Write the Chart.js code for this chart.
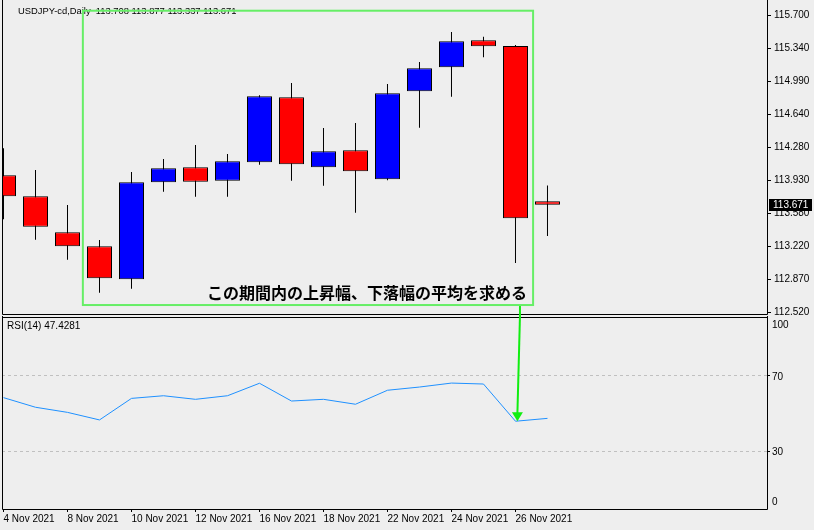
<!DOCTYPE html>
<html>
<head>
<meta charset="utf-8">
<title>USDJPY-cd Daily</title>
<script src="https://cdn.jsdelivr.net/npm/chart.js"></script>
<style>
    body {
        margin: 0;
        background-color: #eeeeee;
    }
    #wrap {
        position: relative;
        width: 814px;
        height: 530px;
        background-color: #eeeeee;
    }
    canvas {
        position: absolute;
        left: 0;
    }
    #priceChart { top: 0; }
    #rsiChart { top: 316px; }
</style>
</head>
<body>

<div id="wrap">
    <canvas id="priceChart" width="814" height="316"></canvas>
    <canvas id="rsiChart" width="814" height="214"></canvas>
</div>

<script>
// Daily bars
const dates = ['4 Nov 2021', '5 Nov 2021', '8 Nov 2021', '9 Nov 2021', '10 Nov 2021', '11 Nov 2021',
    '12 Nov 2021', '15 Nov 2021', '16 Nov 2021', '17 Nov 2021', '18 Nov 2021', '19 Nov 2021',
    '22 Nov 2021', '23 Nov 2021', '24 Nov 2021', '25 Nov 2021', '26 Nov 2021', '29 Nov 2021'];
const openPrices  = [113.987, 113.762, 113.377, 113.227, 112.873, 113.912, 114.072, 113.929, 114.126,
    114.822, 114.072, 114.254, 113.944, 114.886, 115.143, 115.432, 115.371, 113.708];
const highPrices  = [114.276, 114.044, 113.669, 113.294, 114.022, 114.161, 114.311, 114.215, 114.845,
    114.975, 114.493, 114.547, 114.964, 115.200, 115.521, 115.471, 115.382, 113.877];
const lowPrices   = [113.516, 113.297, 113.083, 112.730, 112.773, 113.811, 113.758, 113.758, 114.100,
    113.929, 113.876, 113.586, 113.935, 114.496, 114.828, 115.250, 113.048, 113.337];
const closePrices = [113.762, 113.436, 113.227, 112.884, 113.912, 114.062, 113.918, 114.137, 114.833,
    114.105, 114.244, 114.030, 114.865, 115.132, 115.422, 115.368, 113.526, 113.671];
const rsiValues   = [58.4, 53.3, 50.6, 46.6, 58.0, 59.4, 57.5, 59.4, 66.0, 56.6, 57.5, 54.9,
    62.3, 64.0, 66.1, 65.6, 45.9, 47.4281];

// Axis labels
const dateTickLabels = ['4 Nov 2021', '8 Nov 2021', '10 Nov 2021', '12 Nov 2021', '16 Nov 2021',
    '18 Nov 2021', '22 Nov 2021', '24 Nov 2021', '26 Nov 2021'];
const priceTickLabels = ['112.520', '112.870', '113.220', '113.580', '113.930', '114.280',
    '114.640', '114.990', '115.340', '115.700'];
const rsiTickLabels = ['0', '30', '70', '100'];
const rsiLevels = [30, 70];

const noteText = 'この期間内の上昇幅、下落幅の平均を求める';

// view ranges (bar index / price / rsi units)
const X_MIN = -0.047, X_MAX = 23.86;
const PRICE_MIN = 112.502, PRICE_MAX = 115.853;
const RSI_MIN = -0.53, RSI_MAX = 101.06;
const AXIS_W = 47;

// note box and arrow, in data units
const noteBox = { x0: 2.48, x1: 16.55, top: 115.749, bottom: 112.598 };
const arrowTopX = 16.14, arrowTipX = 16.06, arrowBar = 16;

Chart.defaults.font.family = "'Liberation Sans', Arial, sans-serif";
Chart.defaults.font.size = 10;
Chart.defaults.color = '#000';

const last = dates.length - 1;
const bodyData = dates.map((d, i) => ({ x: i, y: [Math.min(openPrices[i], closePrices[i]), Math.max(openPrices[i], closePrices[i])] }));
const bodyColors = dates.map((d, i) => closePrices[i] >= openPrices[i] ? '#0000ff' : '#ff0000');
const wickData = dates.map((d, i) => ({ x: i, y: [lowPrices[i], highPrices[i]] }));

const lo = parseFloat(priceTickLabels[0]);
const hi = parseFloat(priceTickLabels[priceTickLabels.length - 1]);
const priceTickValues = priceTickLabels.map((l, k) => lo + k * (hi - lo) / (priceTickLabels.length - 1));

function noPad(s) {
    s.paddingLeft = 0; s.paddingRight = 0; s.paddingTop = 0; s.paddingBottom = 0;
}

// black frame round the plot area
const framePlugin = {
    id: 'frame',
    afterDraw(chart) {
        const a = chart.chartArea, ctx = chart.ctx;
        const l = Math.round(a.left) + 0.5, r = Math.round(a.right) + 0.5;
        const t = Math.round(a.top) + 0.5, b = Math.round(a.bottom) + 0.5;
        ctx.save();
        ctx.strokeStyle = '#000';
        ctx.lineWidth = 1;
        ctx.beginPath();
        if (chart.canvas.id === 'rsiChart') {
            ctx.moveTo(l, t); ctx.lineTo(r, t);
        }
        ctx.moveTo(l, 0); ctx.lineTo(l, b); ctx.lineTo(r, b); ctx.lineTo(r, 0);
        ctx.stroke();
        ctx.restore();
    }
};

const priceOverlay = {
    id: 'priceOverlay',
    afterDraw(chart) {
        const { ctx, chartArea: a } = chart;
        const x = chart.scales.x, y = chart.scales.y;
        ctx.save();

        // header
        ctx.fillStyle = '#000';
        ctx.font = "9.4px 'Liberation Sans', Arial, sans-serif";
        ctx.textBaseline = 'middle';
        ctx.textAlign = 'left';
        const ohlc = [openPrices[last], highPrices[last], lowPrices[last], closePrices[last]].map(v => v.toFixed(3)).join(' ');
        ctx.fillText('USDJPY-cd,Daily  ' + ohlc, 18, 11);

        // green box + note
        const L = x.getPixelForValue(noteBox.x0), R = x.getPixelForValue(noteBox.x1);
        const T = y.getPixelForValue(noteBox.top), B = y.getPixelForValue(noteBox.bottom);
        ctx.strokeStyle = '#66ee66';
        ctx.lineWidth = 2;
        ctx.strokeRect(L, T, R - L, B - T);

        ctx.font = "bold 16px 'Noto Sans CJK JP', sans-serif";
        ctx.textAlign = 'right';
        ctx.fillStyle = '#000';
        ctx.fillText(noteText, R - 6, B - 12);

        // arrow, upper part
        const ax = x.getPixelForValue(arrowTopX);
        ctx.strokeStyle = '#11ee11';
        ctx.lineWidth = 2;
        ctx.beginPath();
        ctx.moveTo(ax, B + 1);
        ctx.lineTo(ax, chart.height);
        ctx.stroke();

        // current price box
        const cy = Math.round(y.getPixelForValue(closePrices[last]));
        ctx.fillStyle = '#000';
        ctx.fillRect(Math.round(a.right) + 2, cy - 6, 43, 12);
        ctx.fillStyle = '#fff';
        ctx.font = "10px 'Liberation Sans', Arial, sans-serif";
        ctx.textAlign = 'left';
        ctx.fillText(closePrices[last].toFixed(3), Math.round(a.right) + 6, cy);
        ctx.restore();
    }
};

const rsiOverlay = {
    id: 'rsiOverlay',
    afterDraw(chart) {
        const { ctx, chartArea: a } = chart;
        const x = chart.scales.x, y = chart.scales.y;
        ctx.save();
        ctx.fillStyle = '#000';
        ctx.font = "10px 'Liberation Sans', Arial, sans-serif";
        ctx.textAlign = 'left';
        ctx.textBaseline = 'middle';
        ctx.fillText('RSI(14) ' + rsiValues[last], 7, 10);

        // level labels: top one hangs below, bottom one sits above
        ctx.textBaseline = 'alphabetic';
        rsiTickLabels.forEach((l, k) => {
            const p = y.getPixelForValue(parseFloat(l));
            let dy = 4;
            if (k === 0) dy = -3;
            if (k === rsiTickLabels.length - 1) dy = 9;
            ctx.fillText(l, Math.round(a.right) + 5, p + dy);
        });

        // arrow, lower part with head
        const ax = x.getPixelForValue(arrowTopX);
        const tx = x.getPixelForValue(arrowTipX);
        const ty = y.getPixelForValue(rsiValues[arrowBar]);
        ctx.strokeStyle = '#11ee11';
        ctx.fillStyle = '#11ee11';
        ctx.lineWidth = 2;
        ctx.beginPath();
        ctx.moveTo(ax, 0);
        ctx.lineTo(tx, ty - 8);
        ctx.stroke();
        ctx.beginPath();
        ctx.moveTo(tx, ty);
        ctx.lineTo(tx - 5.5, ty - 9);
        ctx.lineTo(tx + 5.5, ty - 9);
        ctx.closePath();
        ctx.fill();
        ctx.restore();
    }
};

const priceChart = new Chart(document.getElementById('priceChart'), {
    type: 'bar',
    data: {
        datasets: [{
            data: bodyData,
            backgroundColor: bodyColors,
            borderColor: '#000',
            borderWidth: 1,
            borderSkipped: false,
            barThickness: 25,
            grouped: false,
            inflateAmount: 0
        }, {
            data: wickData,
            backgroundColor: '#000',
            borderWidth: 0,
            barThickness: 1,
            grouped: false,
            inflateAmount: 0
        }]
    },
    options: {
        responsive: false,
        animation: false,
        events: [],
        devicePixelRatio: 1,
        layout: { padding: { left: 2, top: 1, right: 0, bottom: 2 } },
        plugins: { legend: { display: false }, tooltip: { enabled: false } },
        scales: {
            x: { type: 'linear', display: false, min: X_MIN, max: X_MAX, offset: false },
            y: {
                position: 'right',
                min: PRICE_MIN,
                max: PRICE_MAX,
                afterBuildTicks: s => { s.ticks = priceTickValues.map(v => ({ value: v })); },
                afterFit: s => { s.width = AXIS_W; noPad(s); },
                ticks: { callback: (v, i) => priceTickLabels[i], padding: 3, autoSkip: false },
                grid: { drawOnChartArea: false, drawTicks: true, tickLength: 4, tickColor: '#000', color: '#000' },
                border: { display: false }
            }
        }
    },
    plugins: [framePlugin, priceOverlay]
});

const isLevel = c => c.tick && rsiLevels.includes(c.tick.value);

const rsiChart = new Chart(document.getElementById('rsiChart'), {
    type: 'line',
    data: {
        datasets: [{
            data: rsiValues.map((v, i) => ({ x: i, y: v })),
            borderColor: '#1e90ff',
            borderWidth: 1,
            pointRadius: 0,
            tension: 0,
            fill: false
        }]
    },
    options: {
        responsive: false,
        animation: false,
        events: [],
        devicePixelRatio: 1,
        layout: { padding: { left: 2, top: 1, right: 0, bottom: 0 } },
        plugins: { legend: { display: false }, tooltip: { enabled: false } },
        scales: {
            x: {
                type: 'linear',
                min: X_MIN,
                max: X_MAX,
                offset: false,
                afterBuildTicks: s => { s.ticks = dateTickLabels.map(l => ({ value: dates.indexOf(l) })); },
                afterFit: s => { s.height = 21; noPad(s); },
                ticks: { callback: (v, i) => dateTickLabels[i], align: 'start', maxRotation: 0, autoSkip: false, padding: 1 },
                grid: { drawOnChartArea: false, drawTicks: true, tickLength: 3, tickColor: '#000', color: '#000' },
                border: { display: false }
            },
            y: {
                position: 'right',
                min: RSI_MIN,
                max: RSI_MAX,
                afterBuildTicks: s => { s.ticks = rsiTickLabels.map(l => ({ value: parseFloat(l) })); },
                afterFit: s => { s.width = AXIS_W; noPad(s); },
                ticks: { display: false },
                grid: {
                    color: c => isLevel(c) ? '#c0c0c0' : 'rgba(0,0,0,0)',
                    tickColor: c => isLevel(c) ? '#000' : 'rgba(0,0,0,0)',
                    drawTicks: true,
                    tickLength: 3
                },
                border: { display: false, dash: [3, 3] }
            }
        }
    },
    plugins: [framePlugin, rsiOverlay]
});
</script>

</body>
</html>
